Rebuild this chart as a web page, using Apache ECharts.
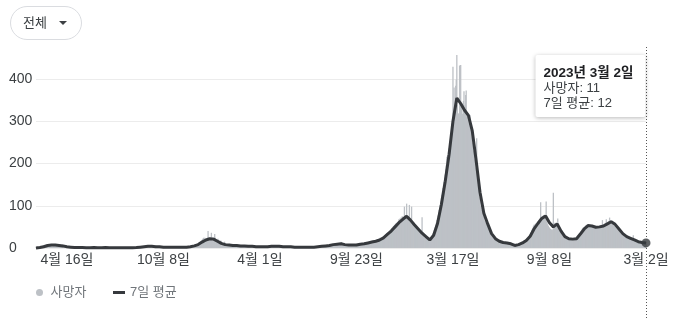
<!DOCTYPE html>
<html><head><meta charset="utf-8">
<script src="https://cdn.jsdelivr.net/npm/echarts@6/dist/echarts.min.js"></script>
<style>html,body{margin:0;padding:0;background:#fff}#c{width:673px;height:319px}</style>
</head><body><div id="c"></div>
<script>
// ---- data ----
// daily deaths, 2020 starts on Feb 20
const deaths2020 = [
 1,1,0,3,2,2,1,1,1,2,
 4,5,6,3,7,6,2,1,1,3,6,6,6,1,5,7,6,7,3,8,2,7,8,6,5,5,5,8,6,4,4,
 3,9,5,4,6,3,3,8,4,4,3,3,3,2,3,4,3,2,3,2,1,1,2,2,2,1,2,2,1,1,
 2,2,1,0,1,2,0,2,0,0,0,1,1,0,1,2,1,1,0,1,0,2,0,1,0,1,0,1,0,0,2,
 0,1,0,1,0,0,1,0,1,2,1,0,1,0,1,0,1,0,0,1,0,2,1,0,1,0,0,1,0,0,
 2,1,0,1,1,0,1,0,0,1,0,1,0,0,2,0,0,1,0,1,0,0,0,0,1,0,0,0,0,0,1,
 0,0,0,0,0,0,0,1,0,0,0,1,0,1,0,0,0,1,0,2,0,1,1,2,1,2,2,3,2,2,3,
 3,2,5,2,3,1,6,3,5,5,4,3,4,2,5,2,4,1,3,4,3,2,2,6,3,2,1,3,3,2,
 3,2,1,1,2,4,2,2,3,1,1,3,2,2,2,3,1,2,2,4,1,3,1,2,4,1,3,2,1,2,2,
 2,1,1,3,1,3,2,1,1,1,2,0,2,3,1,2,1,3,1,3,2,2,3,3,5,2,5,6,4,2,
 5,5,4,6,3,6,6,9,7,8,9,8,12,13,11,18,16,22,14,24,15,24,17,16,17,20,15,40,20,21,20
];
const deaths2021 = [
 25,20,36,20,19,26,19,20,33,24,15,16,10,17,22,13,17,15,12,18,15,10,10,8,10,12,15,12,8,10,8,
 7,6,6,8,10,6,8,7,9,5,7,6,5,4,8,5,6,7,6,4,3,6,7,4,5,4,5,5,
 5,6,4,7,6,2,2,2,5,4,4,6,5,3,4,5,3,3,1,3,4,4,3,3,2,3,3,2,3,3,2,
 2,3,2,3,2,1,2,3,2,4,3,3,2,3,3,1,3,3,3,4,4,2,4,5,3,2,3,4,4,3,
 6,4,3,3,2,2,3,4,2,4,3,4,3,2,2,3,2,4,4,2,3,2,3,2,1,2,3,2,3,2,3,
 3,2,4,2,2,3,1,2,3,1,2,3,2,1,2,1,2,1,2,2,1,2,1,0,2,1,3,1,2,1,
 2,1,1,2,1,2,1,2,2,1,2,1,2,3,2,1,3,4,2,3,2,3,2,4,4,3,5,4,2,5,3,
 5,4,5,6,3,5,4,6,7,6,4,8,6,6,5,7,8,9,7,12,11,7,8,10,12,9,14,11,8,7,7,
 6,7,9,6,5,8,7,6,5,9,7,6,8,5,6,7,7,6,5,7,6,8,7,10,8,9,7,9,8,8,
 10,9,8,11,9,10,12,11,10,9,13,12,11,14,12,13,15,12,14,13,15,17,13,16,15,18,14,16,19,17,15,
 21,17,20,18,24,23,19,21,25,22,28,27,26,30,29,32,35,30,34,38,33,40,42,39,44,46,48,45,52,50,
 55,48,58,52,60,57,62,54,68,62,70,64,72,67,75,70,72,68,98,66,70,74,105,70,72,68,76,102,66,68,70
];
const deaths2022 = [
 98,62,60,58,56,55,52,50,48,47,46,45,44,42,40,38,36,34,33,73,31,29,27,25,24,23,26,22,21,20,19,
 18,20,17,19,21,24,27,31,35,38,42,46,50,55,60,66,71,77,84,90,96,102,110,118,126,134,142,150,
 158,166,174,186,196,216,210,220,228,236,244,252,262,272,284,296,429,320,380,319,329,384,399,457,339,319,318,306,432,360,433,
 340,330,318,310,348,371,330,338,362,373,320,310,300,295,305,290,315,280,270,262,250,240,230,222,210,200,190,180,260,160,
 150,140,130,120,110,100,95,90,85,80,75,70,65,62,60,58,56,54,52,50,45,40,36,33,30,28,26,25,24,23,22,
 21,20,18,17,16,16,15,15,14,14,13,13,12,13,12,12,12,11,13,12,11,12,11,11,10,10,9,10,9,10,
 8,7,6,5,6,5,5,6,7,8,7,9,8,9,10,11,12,11,13,12,14,15,16,18,17,19,20,21,22,24,23,
 26,28,30,32,35,38,42,45,48,52,55,54,56,58,57,60,59,62,64,66,68,70,108,72,74,76,74,78,75,77,76,
 78,110,62,58,55,52,50,48,46,45,44,43,42,44,131,56,58,60,58,57,56,55,70,48,44,40,38,36,34,32,
 30,29,27,26,25,24,23,22,22,21,22,21,22,20,21,22,21,20,22,21,23,22,21,24,22,23,25,26,28,30,31,
 34,36,38,40,42,44,46,48,47,49,50,52,54,51,55,56,53,52,54,50,53,51,52,50,48,50,47,49,51,48,
 50,49,51,48,52,50,49,53,50,54,52,53,66,55,52,55,58,56,60,68,62,57,60,64,62,72,58,66,61,60,58
];
const deaths2023 = [
 58,55,54,52,50,48,47,45,44,43,42,41,38,36,35,34,33,32,31,30,28,27,26,25,27,24,23,22,24,23,22,
 22,21,20,19,22,18,30,17,18,16,15,14,15,14,13,15,12,14,13,12,11,13,12,11,12,10,13,12,
 12,11
];
// 7-day average, one value every 7 days from 2020-02-20 to 2023-03-02
const avgWeekly = [
 0,1,3,6,7,7,6,5,3,2,
 1,1,1,0.5,0.5,1,0.5,0.5,1,0.5,
 0.5,0.5,0.5,0.5,0.5,0.5,1,2,3,4,
 4,3,3,2,2,2,2,2,2,2,
 3,5,8,14,19,22,21,16,11,8,
 7,6,6,5,5,4,4,3,3,3,
 3,4,4,4,3,3,3,2,2,2,
 2,2,2,3,4,5,6,8,9,10,
 8,7,7,7,9,10,12,14,16,19,
 24,32,40,50,60,68,75,66,55,45,
 35,27,19,30,58,103,158,222,300,355,
 342,326,314,277,207,132,82,57,34,22,
 16,13,12,10,6,8,12,18,28,45,
 58,70,76,60,50,57,40,27,22,21,
 22,33,45,53,52,49,50,52,57,62,
 56,45,34,27,23,19,15,13,12
];
const tickDates = ['2020-04-16','2020-10-08','2021-04-01','2021-09-23','2022-03-17','2022-09-08','2023-03-02'];
const seriesNames = ['사망자','7일 평균'];
const filterLabel = '전체';

// ---- build ----
const FONT = '"Liberation Sans", Arial, "Noto Sans CJK KR", sans-serif';
const DAY = 86400000;
const T0 = Date.UTC(2020,1,20);
const dayOf = (y,m,d)=>Math.round((Date.UTC(y,m,d)-T0)/DAY);
const dateOf = n=>new Date(T0 + n*DAY);
function daily(y, m, d, arr){ const s=dayOf(y,m,d); return arr.map((v,i)=>[s+i, v]); }
const barData = [].concat(
  daily(2020,1,20,deaths2020), daily(2021,0,1,deaths2021),
  daily(2022,0,1,deaths2022), daily(2023,0,1,deaths2023));
const lineData = avgWeekly.map((v,i)=>[7*i, v]);
const tickDays = tickDates.map(s=>{const p=s.split('-').map(Number);return dayOf(p[0],p[1]-1,p[2]);});
const lastBar = barData[barData.length-1], lastAvg = lineData[lineData.length-1];
const LINE = '#36393d';
const legendText = {color:'#70757a', fontSize:13, fontFamily:FONT};

const chart = echarts.init(document.getElementById('c'), null, {renderer:'canvas'});
chart.setOption({
  animation:false,
  grid:{left:36,right:27,top:79,bottom:71},
  xAxis:{type:'value', min:0, max:lastBar[0],
    axisLine:{show:false}, axisTick:{show:false}, splitLine:{show:false},
    axisLabel:{customValues:tickDays, margin:5, color:'#3c4043', fontSize:14, fontFamily:FONT,
      formatter:v=>{const d=dateOf(v);return (d.getUTCMonth()+1)+'월 '+d.getUTCDate()+'일';}}},
  yAxis:{type:'value', min:0, max:400, interval:100,
    axisLine:{show:false}, axisTick:{show:false},
    splitLine:{lineStyle:{color:'#ececec'}},
    axisLabel:{align:'left', margin:27, color:'#3c4043', fontSize:14, fontFamily:FONT}},
  legend:[
    {left:36, top:286, padding:0, itemWidth:12, itemHeight:7, textStyle:legendText,
      data:[{name:seriesNames[0], icon:'circle'}]},
    {left:113, top:286, padding:0, itemWidth:12, itemHeight:3, textStyle:legendText,
      data:[{name:seriesNames[1], icon:'rect', itemStyle:{color:LINE}}]}
  ],
  series:[
    {name:seriesNames[0], type:'bar', data:barData, barWidth:1.3, clip:false,
      itemStyle:{color:'#bdc1c6'}, z:2},
    {name:seriesNames[1], type:'line', data:lineData, symbol:'none', clip:false,
      lineStyle:{color:LINE, width:3}, itemStyle:{color:LINE}, z:3},
    {type:'scatter', data:[lastAvg], symbolSize:9, itemStyle:{color:LINE}, z:4}
  ]
});

const p = chart.convertToPixel({xAxisIndex:0, yAxisIndex:0}, lastAvg);
const px = Math.round(p[0]) + 0.5;
const d = dateOf(lastBar[0]);
const tipTitle = d.getUTCFullYear()+'년 '+(d.getUTCMonth()+1)+'월 '+d.getUTCDate()+'일';
const bw = 110, bx = px - 1 - bw, by = 55;
chart.setOption({graphic:[
  {type:'line', shape:{x1:px, y1:47, x2:px, y2:319}, style:{stroke:'#555', lineWidth:1, lineDash:[1,2]}, z:10},
  {type:'rect', shape:{x:bx, y:by, width:bw, height:62, r:2},
    style:{fill:'#fff', shadowBlur:4, shadowColor:'rgba(0,0,0,0.28)', shadowOffsetY:1}, z:11},
  {type:'text', x:bx+8, y:by+18, z:12, style:{text:tipTitle, font:'bold 13.5px '+FONT, fill:'#202124', verticalAlign:'middle'}},
  {type:'text', x:bx+8, y:by+33, z:12, style:{text:seriesNames[0]+': '+lastBar[1], font:'13px '+FONT, fill:'#3c4043', verticalAlign:'middle'}},
  {type:'text', x:bx+8, y:by+48, z:12, style:{text:seriesNames[1]+': '+lastAvg[1], font:'13px '+FONT, fill:'#3c4043', verticalAlign:'middle'}},
  {type:'rect', shape:{x:10.5, y:6.5, width:71, height:33, r:16.5}, style:{fill:'#fff', stroke:'#dadce0', lineWidth:1}},
  {type:'text', x:23, y:23, style:{text:filterLabel, font:'13px '+FONT, fill:'#3c4043', verticalAlign:'middle'}},
  {type:'polygon', shape:{points:[[59,21],[67,21],[63,25]]}, style:{fill:'#3c4043'}}
]});
</script></body></html>
